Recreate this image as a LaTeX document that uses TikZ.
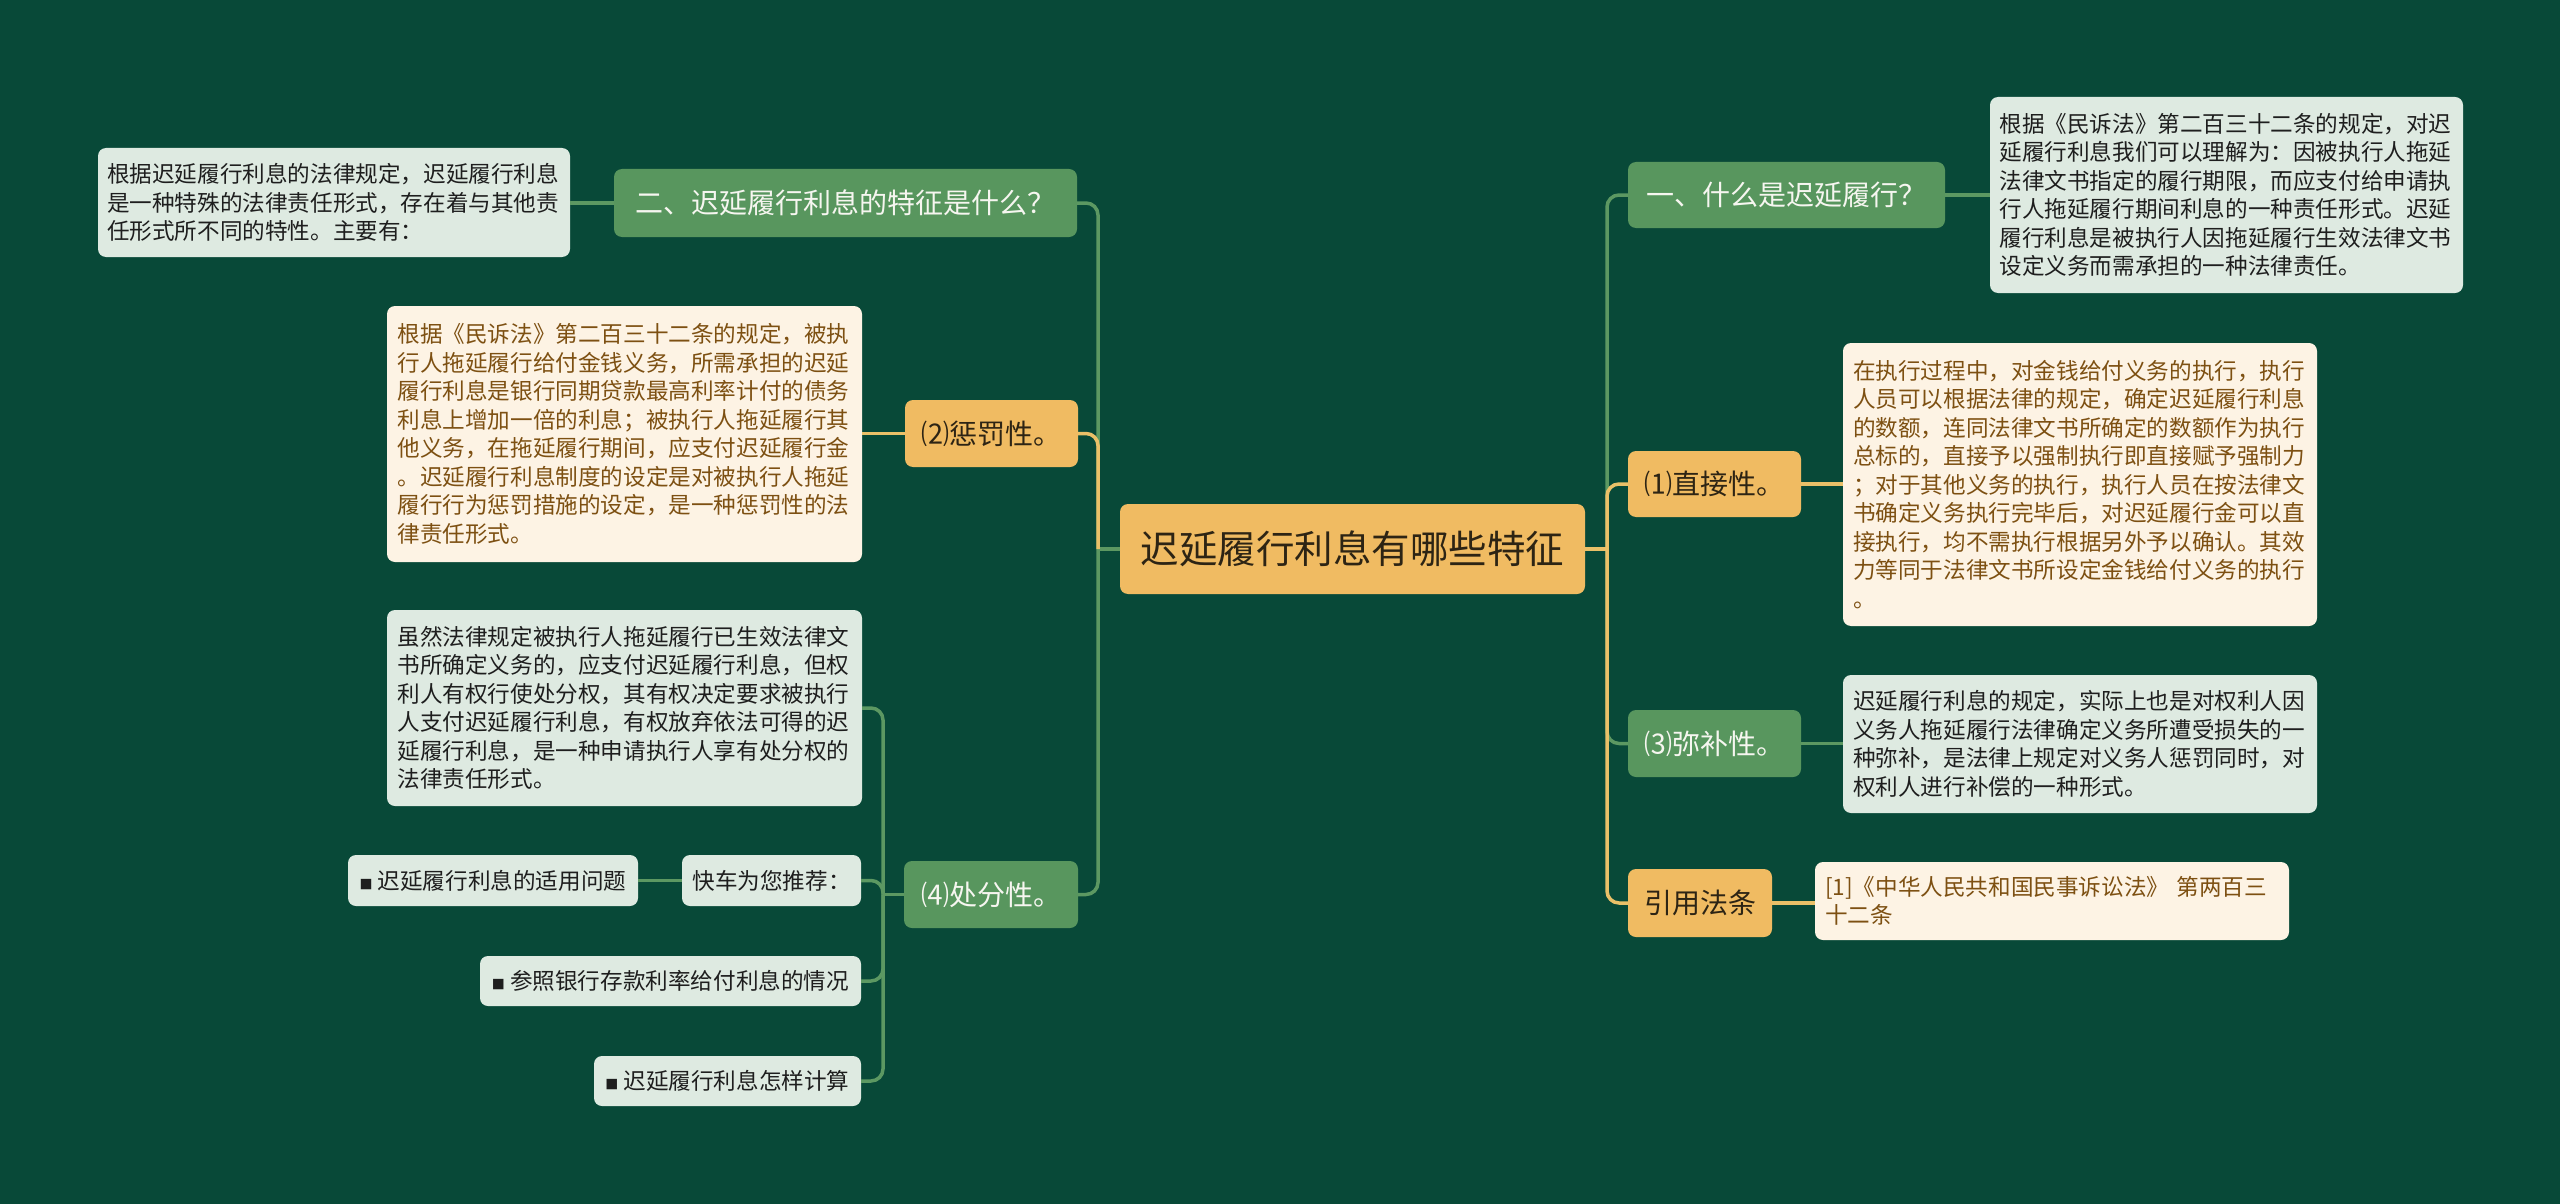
\documentclass[tikz,border=0pt]{standalone}
\usepackage{fontspec}
\setmainfont{Noto Sans CJK SC}
\definecolor{bg}{RGB}{8,73,56}
\definecolor{gfill}{RGB}{88,150,94}
\definecolor{ofill}{RGB}{240,187,98}
\definecolor{gline}{RGB}{92,152,98}
\definecolor{oline}{RGB}{234,192,104}
\definecolor{creamfill}{RGB}{253,243,228}
\definecolor{palefill}{RGB}{222,234,225}
\definecolor{browntext}{RGB}{125,80,18}
\definecolor{darktext}{RGB}{30,30,30}
\definecolor{gtext}{RGB}{246,246,240}
\definecolor{otext}{RGB}{45,36,20}
\newcommand\mybody{\fontsize{22.6}{28.5}\selectfont}
\newcommand\mytitle{\fontsize{28}{34}\selectfont}
\newcommand\mycenter{\fontsize{38.5}{44}\selectfont}
\newcommand\mybullet{{\fontsize{13}{13}\selectfont ■}}
\begin{document}
\begin{tikzpicture}[x=1pt,y=-1pt]
\tikzset{
 base/.style={inner sep=0pt, outer sep=0pt, rounded corners=8pt},
 gtitle/.style={base, fill=gfill, text=gtext, font=\mytitle},
 otitle/.style={base, fill=ofill, text=otext, font=\mytitle},
 creambox/.style={base, fill=creamfill, text=browntext, font=\mybody, align=left, text width=454pt},
 palebox/.style={base, fill=palefill, text=darktext, font=\mybody, align=left, text width=454pt},
 pill/.style={base, fill=palefill, text=darktext, font=\mybody},
 gconn/.style={draw=gline, line width=3.5pt, rounded corners=12pt},
 oconn/.style={draw=oline, line width=3.5pt, rounded corners=12pt},
}
\fill[bg] (0,0) rectangle (2560,1204);
\useasboundingbox (0,0) rectangle (2560,1204);

% centre
\node[base, fill=ofill, text=otext, font=\mycenter, minimum width=465pt, minimum height=90pt] (C) at (1352.5,549) {迟延履行利息有哪些特征};

% left side
\node[gtitle, minimum width=463pt, minimum height=68pt] (L1) at (845.5,203) {二、迟延履行利息的特征是什么？};
\node[palebox, minimum width=472pt, minimum height=109pt] (L1t) at (334,202.5) {根据迟延履行利息的法律规定，迟延履行利息\\是一种特殊的法律责任形式，存在着与其他责\\任形式所不同的特性。主要有：};

\node[otitle, minimum width=173pt, minimum height=67pt] (L2) at (991.5,433.5) {⑵惩罚性。};
\node[creambox, minimum width=475pt, minimum height=256pt] (L2t) at (624.5,434) {根据《民诉法》第二百三十二条的规定，被执\\行人拖延履行给付金钱义务，所需承担的迟延\\履行利息是银行同期贷款最高利率计付的债务\\利息上增加一倍的利息；被执行人拖延履行其\\他义务，在拖延履行期间，应支付迟延履行金\\。迟延履行利息制度的设定是对被执行人拖延\\履行行为惩罚措施的设定，是一种惩罚性的法\\律责任形式。};

\node[gtitle, minimum width=174pt, minimum height=67pt] (L4) at (991,894.5) {⑷处分性。};
\node[palebox, minimum width=475pt, minimum height=196pt] (L4t) at (624.5,708) {虽然法律规定被执行人拖延履行已生效法律文\\书所确定义务的，应支付迟延履行利息，但权\\利人有权行使处分权，其有权决定要求被执行\\人支付迟延履行利息，有权放弃依法可得的迟\\延履行利息，是一种申请执行人享有处分权的\\法律责任形式。};
\node[pill, minimum width=179pt, minimum height=51pt] (L4a) at (771.5,880.5) {快车为您推荐：};
\node[pill, minimum width=290pt, minimum height=51pt] (L4a1) at (493,880.5) {\mybullet\ 迟延履行利息的适用问题};
\node[pill, minimum width=381pt, minimum height=50pt] (L4b) at (670.5,981) {\mybullet\ 参照银行存款利率给付利息的情况};
\node[pill, minimum width=267pt, minimum height=50pt] (L4c) at (727.5,1081) {\mybullet\ 迟延履行利息怎样计算};

% right side
\node[gtitle, minimum width=317pt, minimum height=66pt] (R1) at (1786.5,195) {一、什么是迟延履行？};
\node[palebox, minimum width=473pt, minimum height=196pt] (R1t) at (2226.5,195) {根据《民诉法》第二百三十二条的规定，对迟\\延履行利息我们可以理解为：因被执行人拖延\\法律文书指定的履行期限，而应支付给申请执\\行人拖延履行期间利息的一种责任形式。迟延\\履行利息是被执行人因拖延履行生效法律文书\\设定义务而需承担的一种法律责任。};

\node[otitle, minimum width=173pt, minimum height=66pt] (R2) at (1714.5,484) {⑴直接性。};
\node[creambox, minimum width=474pt, minimum height=283pt] (R2t) at (2080,484.5) {在执行过程中，对金钱给付义务的执行，执行\\人员可以根据法律的规定，确定迟延履行利息\\的数额，连同法律文书所确定的数额作为执行\\总标的，直接予以强制执行即直接赋予强制力\\；对于其他义务的执行，执行人员在按法律文\\书确定义务执行完毕后，对迟延履行金可以直\\接执行，均不需执行根据另外予以确认。其效\\力等同于法律文书所设定金钱给付义务的执行\\。};

\node[gtitle, minimum width=173pt, minimum height=67pt] (R3) at (1714.5,743.5) {⑶弥补性。};
\node[palebox, minimum width=474pt, minimum height=138pt] (R3t) at (2080,744) {迟延履行利息的规定，实际上也是对权利人因\\义务人拖延履行法律确定义务所遭受损失的一\\种弥补，是法律上规定对义务人惩罚同时，对\\权利人进行补偿的一种形式。};

\node[otitle, minimum width=144pt, minimum height=68pt] (R4) at (1700,903) {引用法条};
\node[creambox, minimum width=474pt, minimum height=78pt] (R4t) at (2052,901) {[1]《中华人民共和国民事诉讼法》 第两百三\\十二条};

% junctions
\coordinate (LJ) at (1098,549);
\coordinate (RJ) at (1607,549);
\coordinate (L4J) at (883,894.5);

% left trunk
\draw[gconn] (C.west) -- (LJ);
\draw[gconn] (LJ) |- (L1.east);
\draw[gconn] (LJ) |- (L4.east);
\draw[oconn] (LJ) |- (L2.east);

% right trunk
\draw[gconn] (RJ) |- (R1.west);
\draw[gconn] (RJ) |- (R3.west);
\draw[oconn] (C.east) -- (RJ);
\draw[oconn] (RJ) |- (R2.west);
\draw[oconn] (RJ) |- (R4.west);

% left leaves
\draw[gconn] (L1.west) -- (L1.west -| L1t.east);
\draw[oconn] (L2.west) -- (L2.west -| L2t.east);
\draw[gconn] (L4.west) -- (L4J);
\draw[gconn] (L4J) |- (L4t.east);
\draw[gconn] (L4J) |- (L4a.east);
\draw[gconn] (L4J) |- (L4b.east);
\draw[gconn] (L4J) |- (L4c.east);
\draw[gconn] (L4a.west) -- (L4a1.east);

% right leaves
\draw[gconn] (R1.east) -- (R1.east -| R1t.west);
\draw[oconn] (R2.east) -- (R2.east -| R2t.west);
\draw[gconn] (R3.east) -- (R3.east -| R3t.west);
\draw[oconn] (R4.east) -- (R4.east -| R4t.west);
\end{tikzpicture}
\end{document}
